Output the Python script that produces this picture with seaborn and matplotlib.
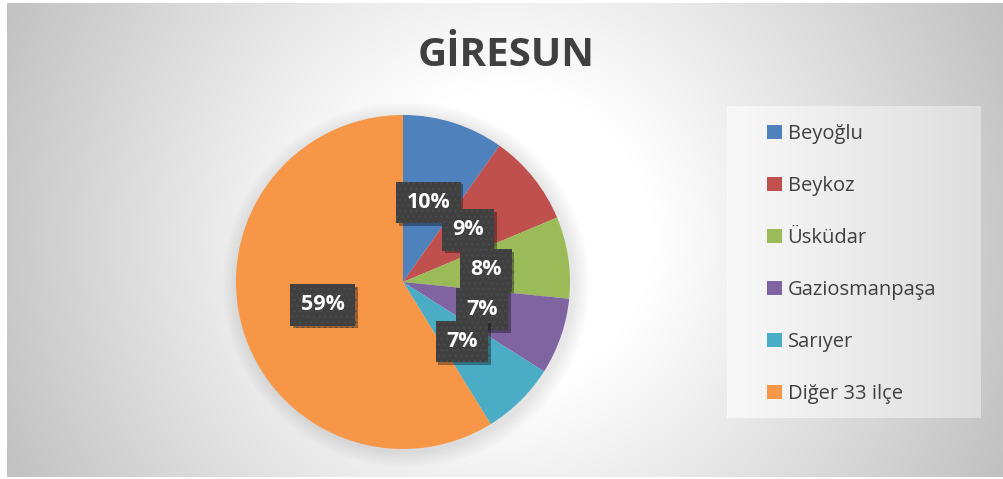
#!/usr/bin/env python3
"""
GİRESUN pie chart: share of the top districts vs the rest.
Usage: python3 plot.py
"""

import matplotlib.patheffects as pe
import matplotlib.pyplot as plt
import numpy as np
import seaborn as sns

# Data
districts = ["Beyoğlu", "Beykoz", "Üsküdar", "Gaziosmanpaşa", "Sarıyer", "Diğer 33 ilçe"]
shares = [9.8, 8.9, 7.9, 7.4, 7.2, 58.8]
title_text = "GİRESUN"

colors = sns.color_palette(["#4F81BD", "#C0504D", "#9BBB59", "#8064A2", "#4BACC6", "#F79646"])
TEXT_COLOR = "#404040"
W, H = 1004, 479


def radial_background(w, h, cx, cy):
    """White centre fading to grey towards the corners (pixel distance)."""
    yy, xx = np.mgrid[0:h, 0:w]
    r = np.hypot(xx - cx, yy - cy)
    t = np.clip((r - 150) / 400, 0, 1)
    v = (255 - 62 * t) / 255
    return np.dstack([v, v, v])


def main():
    sns.set_theme(style="white")
    plt.rcParams["font.family"] = ["Open Sans", "DejaVu Sans"]
    plt.rcParams["hatch.linewidth"] = 0.8

    fig = plt.figure(figsize=(W / 100, H / 100), dpi=100)
    fig.patch.set_facecolor("white")

    # Chart area background with radial gradient
    bg = fig.add_axes([7 / W, 2 / H, 997 / W, 474 / H])
    bg.imshow(radial_background(997, 474, 495, 235), aspect="auto", interpolation="bilinear")
    bg.set_axis_off()

    # Legend panel with a light horizontal gradient
    lg = fig.add_axes([727 / W, (H - 418) / H, 254 / W, 312 / H])
    grad = np.linspace(248, 222, 254) / 255
    lg.imshow(np.dstack([np.tile(grad, (312, 1))] * 3), aspect="auto")
    lg.set_axis_off()

    # Pie, centre at (403, 282) px from top, radius 167 px
    R = 167
    ax = fig.add_axes([(403 - R) / W, (H - 282 - R) / H, 2 * R / W, 2 * R / H])
    ax.set_facecolor("none")

    # soft shadow behind the pie
    for i in range(8):
        ax.add_patch(plt.Circle((0.02, -0.015), 1.0 + 0.012 * (i + 1), color="black",
                                alpha=0.012, lw=0, zorder=0, clip_on=False))

    wedges, _, autotexts = ax.pie(
        shares,
        colors=colors,
        startangle=90,
        counterclock=False,
        autopct=lambda p: f"{p:.0f}%",
        pctdistance=0.5,
        wedgeprops={"linewidth": 0},
        textprops={"color": "white", "fontsize": 15.5, "fontweight": "bold"},
    )
    for w in wedges:
        w.set_zorder(2)
    for t in autotexts:
        t.set_zorder(5)
        t.set_bbox({"boxstyle": "square,pad=0.48", "facecolor": "#404040",
                    "edgecolor": "#4b4b4b", "hatch": "...", "linewidth": 0})
        t.get_bbox_patch().set_path_effects(
            [pe.SimplePatchShadow(offset=(2, -2), shadow_rgbFace="black", alpha=0.35), pe.Normal()]
        )
    ax.set_xlim(-1, 1)
    ax.set_ylim(-1, 1)
    ax.set_axis_off()

    # Title
    fig.text(506 / W, (H - 55) / H, title_text, ha="center", va="center",
             fontsize=29, fontweight="bold", color=TEXT_COLOR)

    # Legend
    fig.legend(
        wedges,
        districts,
        loc="upper left",
        bbox_to_anchor=(757 / W, (H - 114) / H),
        frameon=False,
        fontsize=14.5,
        labelcolor=TEXT_COLOR,
        handlelength=0.72,
        handleheight=0.72,
        handletextpad=0.3,
        labelspacing=1.59,
        borderpad=0,
    )

    plt.savefig("out.png", dpi=100)


if __name__ == "__main__":
    main()
